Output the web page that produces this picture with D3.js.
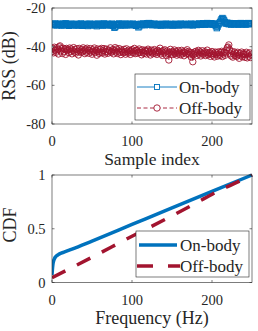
<!DOCTYPE html>
<html><head><meta charset="utf-8">
<script src="https://cdn.jsdelivr.net/npm/d3@7"></script>
<style>body{margin:0;background:#fff}svg{display:block}</style>
</head><body>
<script>
const onBodyRSS = [
-28.6,-28.2,-28.9,-28.4,-28.0,-28.7,-29.0,-28.3,-28.5,-28.8,
-28.1,-28.6,-29.1,-28.4,-28.2,-28.9,-28.5,-27.9,-28.6,-28.3,
-28.8,-29.2,-28.4,-28.7,-28.1,-28.9,-28.6,-29.0,-28.3,-28.5,
-28.9,-28.2,-28.7,-29.1,-28.4,-28.6,-28.0,-28.8,-29.2,-28.5,
-28.3,-28.7,-28.9,-28.2,-28.6,-29.3,-28.4,-28.1,-28.8,-28.5,
-28.9,-28.3,-28.6,-29.0,-28.2,-28.7,-29.4,-28.5,-28.1,-28.8,
-28.4,-28.9,-28.2,-28.6,-29.1,-28.0,-28.7,-28.3,-28.9,-28.5,
-28.2,-28.8,-28.4,-29.0,-28.6,-28.1,-29.2,-28.5,-30.2,-29.8,
-28.7,-28.3,-28.9,-28.5,-28.0,-28.6,-29.1,-28.4,-28.2,-28.8,
-28.5,-28.9,-28.1,-28.6,-29.0,-28.3,-28.7,-28.2,-28.8,-28.4,
-28.6,-28.1,-28.9,-28.4,-28.7,-29.2,-28.3,-28.8,-30.0,-29.5,
-28.5,-28.2,-28.8,-28.4,-28.0,-28.6,-28.9,-28.3,-28.5,-27.9,
-28.2,-27.8,-28.4,-28.0,-28.6,-28.9,-28.3,-28.7,-28.1,-28.5,
-28.8,-28.4,-29.0,-28.6,-28.2,-28.7,-29.1,-28.5,-28.3,-28.9,
-28.4,-28.8,-28.1,-28.6,-29.0,-28.3,-28.7,-28.5,-28.9,-28.2,
-28.6,-29.1,-28.4,-28.8,-28.2,-28.5,-28.9,-28.3,-28.7,-29.0,
-28.4,-28.1,-28.7,-28.5,-28.9,-28.3,-28.6,-28.2,-28.8,-28.4,
-28.7,-28.3,-28.9,-28.5,-28.1,-28.6,-29.0,-28.4,-28.7,-28.2,
-28.5,-28.8,-28.3,-28.6,-28.0,-28.4,-28.7,-28.2,-28.5,-27.9,
-28.3,-28.6,-28.1,-28.4,-27.8,-28.2,-28.5,-28.0,-28.3,-27.9,
-28.2,-28.6,-28.0,-28.4,-28.8,-29.4,-30.4,-29.6,-28.5,-28.0,
-27.4,-26.6,-25.8,-25.2,-25.6,-26.4,-27.2,-27.8,-28.1,-27.6,
-28.0,-28.4,-27.8,-28.2,-28.6,-28.1,-27.9,-28.3,-28.5,-28.0,
-28.4,-27.9,-28.2,-28.6,-28.0,-28.3,-27.8,-28.5,-28.1,-28.4,
-27.9,-28.2,-28.6,-28.0,-28.3,-27.8,-28.4,-28.1,-27.9,-28.2];
const offBodyRSS = [
-42.5,-41.0,-43.2,-40.3,-41.8,-42.9,-40.6,-41.5,-43.8,-40.1,
-39.6,-42.2,-41.0,-43.5,-40.8,-42.6,-41.3,-44.0,-40.9,-42.1,
-41.6,-43.1,-40.7,-42.4,-41.2,-43.7,-42.0,-40.5,-42.8,-41.4,
-43.3,-41.1,-42.5,-44.3,-40.9,-42.2,-43.0,-41.5,-42.7,-40.6,
-42.0,-43.6,-41.3,-42.9,-40.8,-41.9,-43.4,-42.1,-41.0,-42.8,
-43.9,-41.6,-42.4,-40.7,-43.1,-42.0,-44.4,-41.2,-42.6,-43.5,
-41.4,-42.9,-40.9,-43.2,-42.1,-41.0,-43.8,-42.5,-41.3,-42.7,
-43.4,-41.8,-42.2,-40.6,-43.0,-42.4,-41.5,-43.7,-42.0,-40.5,
-42.8,-41.2,-43.5,-42.3,-41.0,-42.9,-44.1,-41.7,-42.5,-43.2,
-41.4,-42.7,-43.9,-41.1,-42.4,-43.3,-41.8,-42.6,-44.0,-42.2,
-41.5,-43.1,-42.3,-40.9,-43.6,-42.0,-41.7,-43.4,-42.8,-41.2,
-43.0,-42.2,-44.2,-41.6,-42.9,-43.5,-41.9,-42.4,-43.8,-42.1,
-41.3,-43.2,-42.6,-44.3,-41.8,-42.9,-43.6,-42.2,-41.5,-43.4,
-42.7,-44.0,-41.9,-43.1,-42.4,-40.8,-43.7,-42.5,-44.5,-42.0,
-43.3,-41.6,-42.8,-44.6,-42.2,-43.5,-46.9,-42.9,-41.4,-43.8,
-42.6,-44.1,-43.0,-41.7,-43.6,-42.4,-44.4,-43.2,-42.0,-43.9,
-42.8,-44.3,-41.9,-43.4,-42.7,-44.7,-43.1,-42.3,-43.8,-41.6,
-43.5,-42.6,-44.2,-43.0,-45.4,-43.7,-47.8,-44.1,-42.8,-43.6,
-42.4,-44.5,-43.2,-41.9,-43.9,-42.7,-44.8,-43.3,-42.1,-44.0,
-43.4,-42.6,-44.6,-43.1,-41.8,-44.2,-43.5,-42.9,-45.0,-43.7,
-42.5,-44.4,-43.6,-45.3,-42.8,-44.0,-43.2,-44.9,-42.7,-43.9,
-44.6,-43.0,-42.4,-45.1,-43.8,-42.9,-44.5,-43.3,-41.8,-40.6,
-40.2,-39.1,-41.5,-43.7,-44.8,-42.6,-45.4,-43.9,-42.7,-44.6,
-43.5,-45.0,-42.9,-44.3,-46.0,-43.4,-44.7,-42.8,-45.2,-44.1,
-43.6,-45.5,-44.0,-42.9,-45.8,-43.7,-44.9,-43.2,-45.6,-44.3];
const sampleTicks = [0, 100, 200];
const rssTicks = [-20, -40, -60, -80];
const onFreq = [0,0.5,1,2,3,4,6,8,10,15,25,50,100,150,200,250];
const onCDF  = [0.07,0.12,0.16,0.2,0.22,0.235,0.25,0.26,0.268,0.283,0.31,0.385,0.54,0.695,0.848,1.0];
const offFreq = [0,50,100,150,190,210,225,250];
const offCDF  = [0.045,0.235,0.43,0.62,0.78,0.86,0.91,1.0];
const freqTicks = [0, 100, 200];
const cdfTicks = [0, 0.5, 1];
const cdfTickLabels = ["0", "0.5", "1"];
const seriesNames = ["On-body", "Off-body"];

const BLUE = "#0072BD", RED = "#A2142F", AX = "#262626";
const FONT = "'Liberation Serif', 'Times New Roman', Times, 'DejaVu Serif', serif";
const W = 258, H = 331;
const svg = d3.select("body").append("svg").attr("width", W).attr("height", H)
  .attr("font-family", FONT);

function txt(g, x, y, s, size, anchor) {
  return g.append("text").attr("x", x).attr("y", y).attr("font-size", size)
    .attr("font-family", FONT).attr("fill", AX).attr("text-anchor", anchor || "start").text(s);
}

function frame(g, x, y, xt, yt, ytl) {
  const [x0, x1] = x.range(), [y0, y1] = y.range();
  const tl = 2.5;
  xt.forEach(v => {
    g.append("line").attr("x1", x(v)).attr("x2", x(v)).attr("y1", y0).attr("y2", y0 - tl).attr("stroke", AX).attr("stroke-width", 0.6);
    g.append("line").attr("x1", x(v)).attr("x2", x(v)).attr("y1", y1).attr("y2", y1 + tl).attr("stroke", AX).attr("stroke-width", 0.6);
    txt(g, x(v), y0 + 22, v, 14.5, "middle");
  });
  yt.forEach((v, i) => {
    g.append("line").attr("x1", x0).attr("x2", x0 + tl).attr("y1", y(v)).attr("y2", y(v)).attr("stroke", AX).attr("stroke-width", 0.6);
    g.append("line").attr("x1", x1).attr("x2", x1 - tl).attr("y1", y(v)).attr("y2", y(v)).attr("stroke", AX).attr("stroke-width", 0.6);
    txt(g, x0 - 6.5, y(v), ytl ? ytl[i] : v, 14.5, "end").attr("dy", "0.35em");
  });
  g.append("rect").attr("x", x0).attr("y", y1).attr("width", x1 - x0).attr("height", y0 - y1)
    .attr("fill", "none").attr("stroke", AX).attr("stroke-width", 0.6);
}

// ---------- Top chart ----------
const xs = d3.scaleLinear().domain([0, 250]).range([52, 252]);
const yr = d3.scaleLinear().domain([-80, -20]).range([124, 8]);
const gt = svg.append("g");
svg.append("clipPath").attr("id", "ct").append("rect")
  .attr("x", 52).attr("y", 8).attr("width", 200).attr("height", 116);
const pl = gt.append("g").attr("clip-path", "url(#ct)");
const lineT = d3.line().x((d, i) => xs(i)).y(d => yr(d));
const SQ = 5.4;
pl.append("path").datum(onBodyRSS).attr("d", lineT).attr("fill", "none").attr("stroke", BLUE).attr("stroke-width", 1);
pl.selectAll(".sq").data(onBodyRSS).enter().append("rect")
  .attr("x", (d, i) => xs(i) - SQ / 2).attr("y", d => yr(d) - SQ / 2).attr("width", SQ).attr("height", SQ)
  .attr("fill", "none").attr("stroke", BLUE).attr("stroke-width", 1);
pl.append("path").datum(offBodyRSS).attr("d", lineT).attr("fill", "none").attr("stroke", RED).attr("stroke-width", 0.9).attr("stroke-dasharray", "4,2.5");
pl.selectAll(".ci").data(offBodyRSS).enter().append("circle")
  .attr("cx", (d, i) => xs(i)).attr("cy", d => yr(d)).attr("r", 3.2)
  .attr("fill", "none").attr("stroke", RED).attr("stroke-width", 0.9);
frame(gt, xs, yr, sampleTicks, rssTicks);
txt(gt, 152, 164.5, "Sample index", 17.5, "middle");
txt(gt, 0, 0, "RSS (dB)", 18, "middle").attr("transform", "translate(15,66) rotate(-90)");
const lt = gt.append("g");
lt.append("rect").attr("x", 135).attr("y", 74).attr("width", 115).attr("height", 46).attr("fill", "#fff").attr("stroke", AX).attr("stroke-width", 0.6);
lt.append("line").attr("x1", 137).attr("x2", 177).attr("y1", 87).attr("y2", 87).attr("stroke", BLUE).attr("stroke-width", 0.9);
lt.append("rect").attr("x", 157 - 2.5).attr("y", 87 - 2.5).attr("width", 5).attr("height", 5).attr("fill", "#fff").attr("stroke", BLUE).attr("stroke-width", 0.9);
lt.append("line").attr("x1", 137).attr("x2", 177).attr("y1", 108).attr("y2", 108).attr("stroke", RED).attr("stroke-width", 0.9).attr("stroke-dasharray", "4,2.5");
lt.append("circle").attr("cx", 157).attr("cy", 108).attr("r", 3.2).attr("fill", "#fff").attr("stroke", RED).attr("stroke-width", 0.9);
txt(lt, 179, 93, seriesNames[0], 17);
txt(lt, 179, 114, seriesNames[1], 17);

// ---------- Bottom chart ----------
const xf = d3.scaleLinear().domain([0, 250]).range([52, 252]);
const yc = d3.scaleLinear().domain([0, 1]).range([282.5, 175]);
const gb = svg.append("g");
svg.append("clipPath").attr("id", "cb").append("rect").attr("x", 52).attr("y", 172).attr("width", 202).attr("height", 111);
const pb = gb.append("g").attr("clip-path", "url(#cb)");
const lineB = d3.line().x(d => xf(d[0])).y(d => yc(d[1])).curve(d3.curveMonotoneX);
pb.append("path").datum(onFreq.map((f, i) => [f, onCDF[i]])).attr("d", lineB).attr("fill", "none").attr("stroke", BLUE).attr("stroke-width", 3.5);
pb.append("path").datum(offFreq.map((f, i) => [f, offCDF[i]])).attr("d", lineB).attr("fill", "none").attr("stroke", RED).attr("stroke-width", 3.5).attr("stroke-dasharray", "15,13");
frame(gb, xf, yc, freqTicks, cdfTicks, cdfTickLabels);
txt(gb, 152, 324, "Frequency (Hz)", 18, "middle");
txt(gb, 0, 0, "CDF", 18, "middle").attr("transform", "translate(16,225) rotate(-90)");
const lb = gb.append("g");
lb.append("rect").attr("x", 136).attr("y", 231).attr("width", 113).attr("height", 46).attr("fill", "#fff").attr("stroke", AX).attr("stroke-width", 0.6);
lb.append("line").attr("x1", 139).attr("x2", 177).attr("y1", 245).attr("y2", 245).attr("stroke", BLUE).attr("stroke-width", 3.5);
lb.append("line").attr("x1", 137).attr("x2", 180).attr("y1", 266).attr("y2", 266).attr("stroke", RED).attr("stroke-width", 3.5).attr("stroke-dasharray", "16,15");
txt(lb, 180, 251, seriesNames[0], 17);
txt(lb, 180, 272, seriesNames[1], 17);
</script>
</body></html>
